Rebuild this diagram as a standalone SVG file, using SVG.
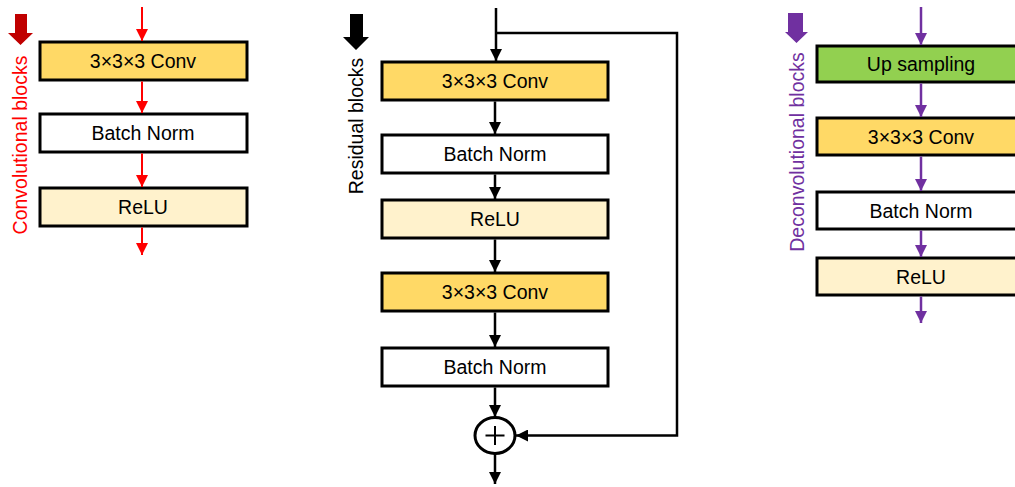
<svg xmlns="http://www.w3.org/2000/svg" width="1015" height="487" viewBox="0 0 1015 487">
  <style>
    .box { stroke: #000; stroke-width: 3; }
    .conv { fill: #FFD966; }
    .norm { fill: #FFFFFF; }
    .relu { fill: #FFF2CC; }
    .up { fill: #92D050; }
    .lbl { font-family: "Liberation Sans", Arial, sans-serif; font-size: 19.5px; fill: #000; text-anchor: middle; }
    .side { font-family: "Liberation Sans", Arial, sans-serif; font-size: 19.5px; text-anchor: middle; }
    .red { stroke: #FF0000; stroke-width: 2; fill: none; }
    .blk { stroke: #000; stroke-width: 2.5; fill: none; }
    .pur { stroke: #7030A0; stroke-width: 2.5; fill: none; }
  </style>
  <defs>
    <marker id="ahRed" markerUnits="userSpaceOnUse" markerWidth="12" markerHeight="12" viewBox="0 0 12 12" refX="12" refY="6" orient="auto">
      <path d="M0,0 L12,6 L0,12 Z" fill="#FF0000"/>
    </marker>
    <marker id="ahBlk" markerUnits="userSpaceOnUse" markerWidth="12" markerHeight="12" viewBox="0 0 12 12" refX="12" refY="6" orient="auto">
      <path d="M0,0 L12,6 L0,12 Z" fill="#000"/>
    </marker>
    <marker id="ahPur" markerUnits="userSpaceOnUse" markerWidth="12" markerHeight="12" viewBox="0 0 12 12" refX="12" refY="6" orient="auto">
      <path d="M0,0 L12,6 L0,12 Z" fill="#7030A0"/>
    </marker>
  </defs>

  <!-- Convolutional block -->
  <g id="conv-legend">
    <polygon points="15,14 27,14 27,33 33,33 20.5,45 8,33 15,33" fill="#C00000"/>
    <text class="side" fill="#FF0000" transform="translate(27,145) rotate(-90)">Convolutional blocks</text>
  </g>
  <g id="c-conv"><rect class="box conv" x="40" y="42" width="207" height="38"/><text class="lbl" x="143" y="68">3×3×3 Conv</text></g>
  <g id="c-bn"><rect class="box norm" x="40" y="114" width="207" height="38"/><text class="lbl" x="143" y="140">Batch Norm</text></g>
  <g id="c-relu"><rect class="box relu" x="40" y="188" width="207" height="38"/><text class="lbl" x="143" y="214">ReLU</text></g>

  <!-- Residual block -->
  <g id="res-legend">
    <polygon points="350,14 363,14 363,37 369,37 356,50 343,37 350,37" fill="#000"/>
    <text class="side" fill="#000" transform="translate(363,126) rotate(-90)">Residual blocks</text>
  </g>
  <g id="r-conv1"><rect class="box conv" x="382" y="62" width="226" height="38"/><text class="lbl" x="495" y="88">3×3×3 Conv</text></g>
  <g id="r-bn1"><rect class="box norm" x="382" y="135" width="226" height="38"/><text class="lbl" x="495" y="161">Batch Norm</text></g>
  <g id="r-relu"><rect class="box relu" x="382" y="200" width="226" height="38"/><text class="lbl" x="495" y="226">ReLU</text></g>
  <g id="r-conv2"><rect class="box conv" x="382" y="273" width="226" height="38"/><text class="lbl" x="495" y="299">3×3×3 Conv</text></g>
  <g id="r-bn2"><rect class="box norm" x="382" y="348" width="226" height="38"/><text class="lbl" x="495" y="374">Batch Norm</text></g>
  <g id="r-add">
    <ellipse cx="495" cy="435.5" rx="20" ry="18" fill="#fff" stroke="#000" stroke-width="3"/>
    <path d="M495,426 V445 M485.5,435.5 H504.5" stroke="#000" stroke-width="2"/>
  </g>

  <!-- Deconvolutional block -->
  <g id="deconv-legend">
    <polygon points="788,13 803,13 803,32 808,32 796.5,43 785,32 788,32" fill="#7030A0"/>
    <text class="side" fill="#7030A0" transform="translate(804,152) rotate(-90)">Deconvolutional blocks</text>
  </g>
  <g id="d-up"><rect class="box up" x="817" y="46" width="208" height="36"/><text class="lbl" x="921" y="71">Up sampling</text></g>
  <g id="d-conv"><rect class="box conv" x="817" y="118" width="208" height="37"/><text class="lbl" x="921" y="143.5">3×3×3 Conv</text></g>
  <g id="d-bn"><rect class="box norm" x="817" y="192" width="208" height="37"/><text class="lbl" x="921" y="217.5">Batch Norm</text></g>
  <g id="d-relu"><rect class="box relu" x="817" y="258" width="208" height="37"/><text class="lbl" x="921" y="283.5">ReLU</text></g>

  <!-- Connectors -->
  <g id="connectors">
    <path class="red" d="M142,7 V41" marker-end="url(#ahRed)"/>
    <path class="red" d="M142,81.5 V113" marker-end="url(#ahRed)"/>
    <path class="red" d="M142,153.5 V187" marker-end="url(#ahRed)"/>
    <path class="red" d="M142,227.5 V255" marker-end="url(#ahRed)"/>

    <path class="blk" d="M496,8 V61" marker-end="url(#ahBlk)"/>
    <path class="blk" d="M496,33 H677 V435.5 H516" marker-end="url(#ahBlk)"/>
    <path class="blk" d="M495,101.5 V134" marker-end="url(#ahBlk)"/>
    <path class="blk" d="M495,174.5 V199" marker-end="url(#ahBlk)"/>
    <path class="blk" d="M495,239.5 V272" marker-end="url(#ahBlk)"/>
    <path class="blk" d="M495,312.5 V347" marker-end="url(#ahBlk)"/>
    <path class="blk" d="M495,387.5 V417" marker-end="url(#ahBlk)"/>
    <path class="blk" d="M495,454 V484" marker-end="url(#ahBlk)"/>

    <path class="pur" d="M921,7 V45" marker-end="url(#ahPur)"/>
    <path class="pur" d="M921,83.5 V117" marker-end="url(#ahPur)"/>
    <path class="pur" d="M921,156.5 V191" marker-end="url(#ahPur)"/>
    <path class="pur" d="M921,230.5 V257" marker-end="url(#ahPur)"/>
    <path class="pur" d="M921,296.5 V323" marker-end="url(#ahPur)"/>
  </g>
</svg>
